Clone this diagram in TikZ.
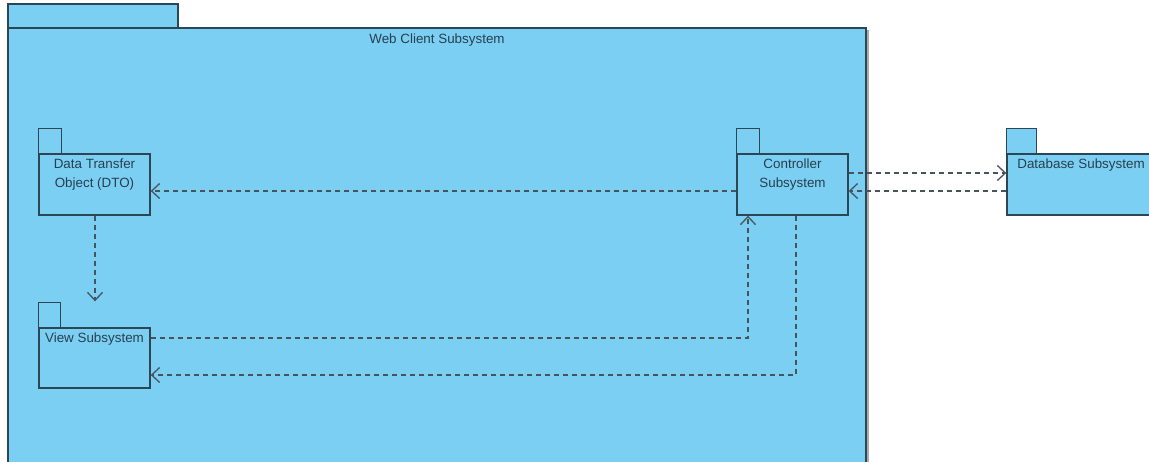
\documentclass[tikz,border=0pt]{standalone}
\usepackage{fontspec}
\setmainfont{Liberation Sans}
\usetikzlibrary{arrows.meta}
\definecolor{pkgfill}{RGB}{123,207,243}
\definecolor{pkgline}{RGB}{44,70,86}
\definecolor{depline}{RGB}{72,84,92}
\definecolor{shadowgray}{RGB}{170,170,170}
\tikzset{
  pkgbody/.style={draw=pkgline, fill=pkgfill, line width=1.4pt, rectangle, inner sep=0pt},
  pkgtab/.style={draw=pkgline, fill=pkgfill, line width=1.4pt},
  pkglabel/.style={font=\fontsize{13.4}{19}\selectfont, text=pkgline!90!black, align=center, inner sep=0pt, anchor=north},
  dep/.style={draw=depline, line width=1.3pt, dash pattern=on 5pt off 4pt,
    -{Straight Barb[length=8pt,width=15pt,line width=1.3pt]}},
}
\begin{document}
\begin{tikzpicture}[x=1pt,y=-1pt]
\clip (0,0) rectangle (1149,461);
\fill[white] (0,0) rectangle (1149,461);

% enclosing package: Web Client Subsystem
\fill[shadowgray] (10,30) rectangle (869,480);
\draw[pkgtab] (8,4) rectangle (178,28);
\node[pkgbody, minimum width=858pt, minimum height=452pt] (web) at (437,254) {};
\node[pkglabel] (webtitle) at ([yshift=-6pt]web.north) {Web Client Subsystem};

% Data Transfer Object package
\node[pkgbody, minimum width=111pt, minimum height=61pt] (dto) at (94.5,184.5) {};
\draw[pkgtab] (dto.north west) rectangle ++(23,-25);
\node[pkglabel] (dtotext) at ([yshift=-5pt]dto.north) {Data Transfer\\Object (DTO)};

% Controller package
\node[pkgbody, minimum width=111pt, minimum height=61pt] (ctrl) at (792.5,184.5) {};
\draw[pkgtab] (ctrl.north west) rectangle ++(23,-25);
\node[pkglabel] (ctrltext) at ([yshift=-5pt]ctrl.north) {Controller\\Subsystem};

% View package
\node[pkgbody, minimum width=111pt, minimum height=60pt] (view) at (94.5,358) {};
\draw[pkgtab] (view.north west) rectangle ++(22,-25);
\node[pkglabel] (viewtext) at ([yshift=-5pt]view.north) {View Subsystem};

% Database package
\node[pkgbody, minimum width=148pt, minimum height=61pt] (db) at (1081,184.5) {};
\draw[pkgtab] (db.north west) rectangle ++(30,-25);
\node[pkglabel] (dbtext) at ([yshift=-5pt]db.north) {Database Subsystem};

% dependencies
\draw[dep] ([yshift=-6.5pt]ctrl.west) -- ([yshift=-6.5pt]dto.east);
\draw[dep] ([yshift=11.5pt]ctrl.east) -- ([yshift=11.5pt]db.west);
\draw[dep] ([yshift=-6.5pt]db.west) -- ([yshift=-6.5pt]ctrl.east);
\draw[dep] ([xshift=0.5pt]dto.south) -- ([xshift=0.5pt,yshift=26pt]view.north);
\draw[dep] ([yshift=20pt]view.east) -| ([xshift=-44.5pt]ctrl.south);
\draw[dep] ([xshift=3.5pt]ctrl.south) |- ([yshift=-17pt]view.east);
\end{tikzpicture}
\end{document}
